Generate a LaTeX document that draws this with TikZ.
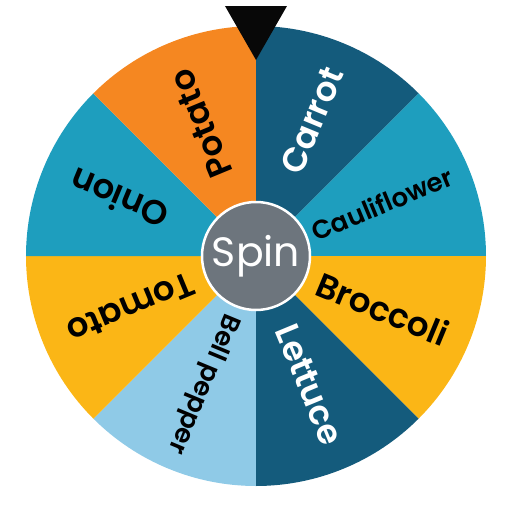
\documentclass[tikz,border=0pt]{standalone}
\usepackage{fontspec}
\setmainfont{Poppins}[BoldFont={Poppins SemiBold}]
\definecolor{wheelnavy}{HTML}{145B7C}
\definecolor{wheelteal}{HTML}{1E9EBE}
\definecolor{wheelyellow}{HTML}{FBB616}
\definecolor{wheelorange}{HTML}{F58721}
\definecolor{wheellight}{HTML}{8FCAE7}
\definecolor{wheelgray}{HTML}{6D757D}
\tikzstyle{veglabel} = [anchor=east, inner sep=0pt, text=black,
font=\bfseries\fontsize{34}{34}\selectfont]
\tikzstyle{smalllabel} = [veglabel, font=\bfseries\fontsize{26}{26}\selectfont]
\tikzstyle{hub} = [circle, fill=wheelgray, draw=white, line width=2.5pt,
minimum size=108pt, text=white, font=\fontsize{41}{41}\selectfont]

\begin{document}
\begin{tikzpicture}[x=1pt,y=1pt]
	\useasboundingbox (-256,-256) rectangle (256,256);
	% slices of the wheel
	\foreach \a/\col in {90/wheelnavy, 45/wheelteal, 0/wheelyellow, -45/wheelnavy,
		-90/wheellight, -135/wheelyellow, 180/wheelteal, 135/wheelorange}
		\fill[\col] (0,0) -- (\a:230) arc[start angle=\a, delta angle=-45, radius=230] -- cycle;
	% names
	\node[veglabel, text=white, rotate=67.5] (carrot) at (67.5:203) {Carrot};
	\node[smalllabel, rotate=22.5] (cauli) at (22.5:212) {Cauliflower};
	\node[veglabel, rotate=-22.5] (broc) at (-22.5:207) {Broccoli};
	\node[veglabel, text=white, rotate=-67.5] (lettuce) at (-67.5:203) {Lettuce};
	\node[smalllabel, rotate=-112.5] (bell) at (-112.5:213) {Bell pepper};
	\node[veglabel, rotate=-157.5] (tomato) at (-157.5:203) {Tomato};
	\node[veglabel, rotate=157.5] (onion) at (157.5:200) {Onion};
	\node[veglabel, rotate=112.5] (potato) at (112.5:200) {Potato};
	% hub and pointer
	\node[hub] (spin) at (0,0) {Spin};
	\fill[black!97] (-31,250) -- (31,250) -- (0,196) -- cycle;
\end{tikzpicture}
\end{document}
